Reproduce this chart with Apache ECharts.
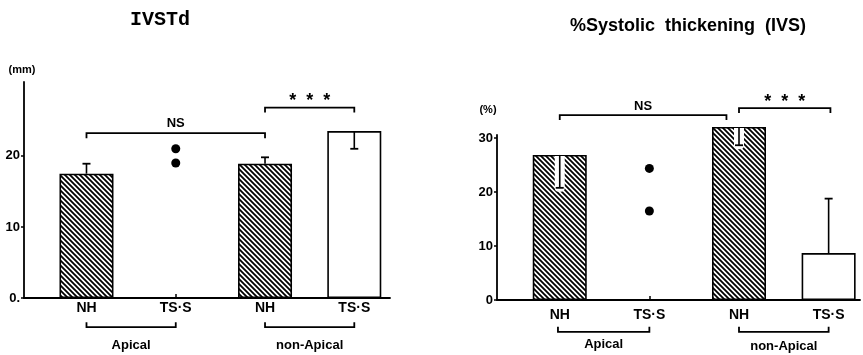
<!DOCTYPE html>
<html>
<head>
<meta charset="utf-8">
<script src="https://cdn.jsdelivr.net/npm/echarts@6/dist/echarts.min.js"></script>
<style>
html, body { margin: 0; background: #fff; }
#main { width: 863px; height: 355px; }
</style>
</head>
<body>
<div id="main"></div>
<script>
// groups: NH / TS·S, Apical then non-Apical
var groupNames = ['NH', 'TS·S', 'NH', 'TS·S'];
var groupPos = [1, 2, 3, 4];
var hatched = [true, false, true, false];

// IVSTd (mm)
var ivsMean = [17.5, null, 18.9, 23.5];
var ivsErrEnd = [18.9, null, 19.8, 21.0];
var ivsDots = [21.0, 19.0];
var ivsTicks = [0, 10, 20];

// %Systolic thickening (IVS)
var thkMean = [26.9, null, 32.1, 8.7];
var thkErrEnd = [20.8, null, 28.7, 18.8];
var thkDots = [24.4, 16.5];
var thkTicks = [0, 10, 20, 30];

// significance / group brackets: [from, to, level]
var ivsBrackets = [[1, 3, 23.2], [3, 4, 26.8]];
var ivsBracketText = ['NS', '*  *  *'];
var ivsGroupBrackets = [[1, 2, -4.1], [3, 4, -4.1]];
var thkBrackets = [[1, 2.86, 34.3], [3, 4.02, 35.6]];
var thkBracketText = ['NS', '*  *  *'];
var thkGroupBrackets = [[0.98, 2, -5.9], [3, 4, -5.9]];
var groupText = ['Apical', 'non-Apical'];

var chart = echarts.init(document.getElementById('main'));

// diagonal hatch
var hatch = document.createElement('canvas');
hatch.width = 5; hatch.height = 5;
var hc = hatch.getContext('2d');
hc.fillStyle = '#fff'; hc.fillRect(0, 0, 5, 5);
hc.strokeStyle = '#000'; hc.lineWidth = 1.8;
hc.beginPath();
hc.moveTo(-1, -1); hc.lineTo(6, 6);
hc.moveTo(-1, 4); hc.lineTo(1, 6);
hc.moveTo(4, -1); hc.lineTo(6, 1);
hc.stroke();
var hatchFill = { image: hatch, repeat: 'repeat' };

function barData(means) {
  var out = [];
  means.forEach(function (m, i) {
    if (m == null) return;
    out.push({ value: [groupPos[i], m], itemStyle: { color: hatched[i] ? hatchFill : '#fff' } });
  });
  return out;
}
function errData(means, ends) {
  var out = [];
  means.forEach(function (m, i) {
    if (m == null) return;
    out.push([groupPos[i], m, ends[i], hatched[i] && ends[i] < m ? 1 : 0]);
  });
  return out;
}

function errRender(params, api) {
  var p0 = api.coord([api.value(0), api.value(1)]);
  var p1 = api.coord([api.value(0), api.value(2)]);
  var kids = [];
  if (api.value(3)) {
    kids.push({ type: 'rect', shape: { x: p0[0] - 5, y: p0[1] + 1, width: 10, height: p1[1] - p0[1] + 3, r: [0, 0, 4, 4] },
      style: { fill: '#fff' } });
  }
  kids.push({ type: 'line', shape: { x1: p0[0], y1: p0[1], x2: p1[0], y2: p1[1] }, style: { stroke: '#000', lineWidth: 1.6 } });
  kids.push({ type: 'line', shape: { x1: p1[0] - 4, y1: p1[1], x2: p1[0] + 4, y2: p1[1] }, style: { stroke: '#000', lineWidth: 1.8 } });
  return { type: 'group', children: kids };
}

// gaps/fonts are drawing style, one per bracket
function bracketSeries(gi, data, texts, gaps, fonts) {
  return {
    type: 'custom', xAxisIndex: gi, yAxisIndex: gi, clip: false, silent: true,
    data: data,
    renderItem: function (params, api) {
      var y = api.value(2);
      var a = api.coord([api.value(0), y]);
      var b = api.coord([api.value(1), y]);
      var down = y > 0;
      var t = down ? 5 : -5;
      var i = params.dataIndex;
      return { type: 'group', children: [
        { type: 'polyline', shape: { points: [[a[0], a[1] + t], [a[0], a[1]], [b[0], b[1]], [b[0], b[1] + t]] },
          style: { stroke: '#000', lineWidth: 1.8, fill: null } },
        { type: 'text', x: (a[0] + b[0]) / 2, y: down ? a[1] - gaps[i] : a[1] + gaps[i],
          style: { text: texts[i], align: 'center', verticalAlign: 'middle', font: fonts[i], fill: '#000' } }
      ] };
    }
  };
}

var F12 = 'bold 12px "Liberation Sans"', F13 = 'bold 13px "Liberation Sans"', FST = 'bold 18px "Liberation Sans"';

function xAxisCfg(gi, max, margin) {
  return {
    type: 'value', gridIndex: gi, min: 0.3, max: max,
    axisLine: { lineStyle: { color: '#000', width: 1.8 } },
    splitLine: { show: false },
    axisTick: { inside: true, length: 4, customValues: groupPos, lineStyle: { color: '#000', width: 1.5 } },
    axisLabel: { customValues: groupPos, margin: margin, fontFamily: 'Liberation Sans', fontWeight: 'bold', fontSize: 14, color: '#000',
      formatter: function (v) { return groupNames[groupPos.indexOf(v)]; } }
  };
}
function yAxisCfg(gi, max, ticks, name, nameGap, namePad, fmt) {
  return {
    type: 'value', gridIndex: gi, min: 0, max: max,
    name: name, nameLocation: 'end', nameGap: nameGap,
    nameTextStyle: { fontFamily: 'Liberation Sans', fontWeight: 'bold', fontSize: 11, color: '#000', padding: namePad },
    axisLine: { show: true, lineStyle: { color: '#000', width: 1.8 } },
    splitLine: { show: false },
    axisTick: { show: true, length: 3, customValues: ticks, lineStyle: { color: '#000', width: 1.5 } },
    axisLabel: { customValues: ticks, margin: 4, formatter: fmt, fontFamily: 'Liberation Sans', fontWeight: 'bold', fontSize: 13, color: '#000' }
  };
}

chart.setOption({
  animation: false,
  backgroundColor: '#fff',
  title: [
    { text: 'IVSTd', left: 155, top: 5, textAlign: 'center',
      textStyle: { fontFamily: 'Liberation Mono', fontWeight: 'bold', fontSize: 20, color: '#000' } },
    { text: '%Systolic  thickening  (IVS)', left: 683, top: 12, textAlign: 'center',
      textStyle: { fontFamily: 'Liberation Sans', fontWeight: 'bold', fontSize: 18, color: '#000' } }
  ],
  grid: [
    { left: 24, right: 473, top: 82, bottom: 57 },
    { left: 497, right: 3, top: 135, bottom: 55 }
  ],
  xAxis: [xAxisCfg(0, 4.4, 3), xAxisCfg(1, 4.35, 8)],
  yAxis: [
    yAxisCfg(0, 30.4, ivsTicks, '(mm)', 7, [0, 4, 0, 0], function (v) { return v === 0 ? '0.' : String(v); }),
    yAxisCfg(1, 30.6, thkTicks, '(%)', 20, [0, 18, 0, 0], function (v) { return String(v); })
  ],
  series: [
    { type: 'bar', xAxisIndex: 0, yAxisIndex: 0, barWidth: 54, clip: false, data: barData(ivsMean),
      itemStyle: { borderColor: '#000', borderWidth: 1.6 } },
    { type: 'bar', xAxisIndex: 1, yAxisIndex: 1, barWidth: 54, clip: false, data: barData(thkMean),
      itemStyle: { borderColor: '#000', borderWidth: 1.6 } },
    { type: 'custom', xAxisIndex: 0, yAxisIndex: 0, clip: false, renderItem: errRender, data: errData(ivsMean, ivsErrEnd), z: 5 },
    { type: 'custom', xAxisIndex: 1, yAxisIndex: 1, clip: false, renderItem: errRender, data: errData(thkMean, thkErrEnd), z: 5 },
    { type: 'scatter', xAxisIndex: 0, yAxisIndex: 0, symbolSize: 9, itemStyle: { color: '#000', opacity: 1 },
      data: ivsDots.map(function (v) { return [groupPos[1], v]; }) },
    { type: 'scatter', xAxisIndex: 1, yAxisIndex: 1, symbolSize: 9, itemStyle: { color: '#000', opacity: 1 },
      data: thkDots.map(function (v) { return [groupPos[1], v]; }) },
    bracketSeries(0, ivsBrackets, ivsBracketText, [10, 6.5], [F13, FST]),
    bracketSeries(1, thkBrackets, thkBracketText, [8.5, 6], [F13, FST]),
    bracketSeries(0, ivsGroupBrackets, groupText, [18, 18], [F13, F13]),
    bracketSeries(1, thkGroupBrackets, groupText, [13, 15], [F13, F13])
  ]
});
</script>
</body>
</html>
